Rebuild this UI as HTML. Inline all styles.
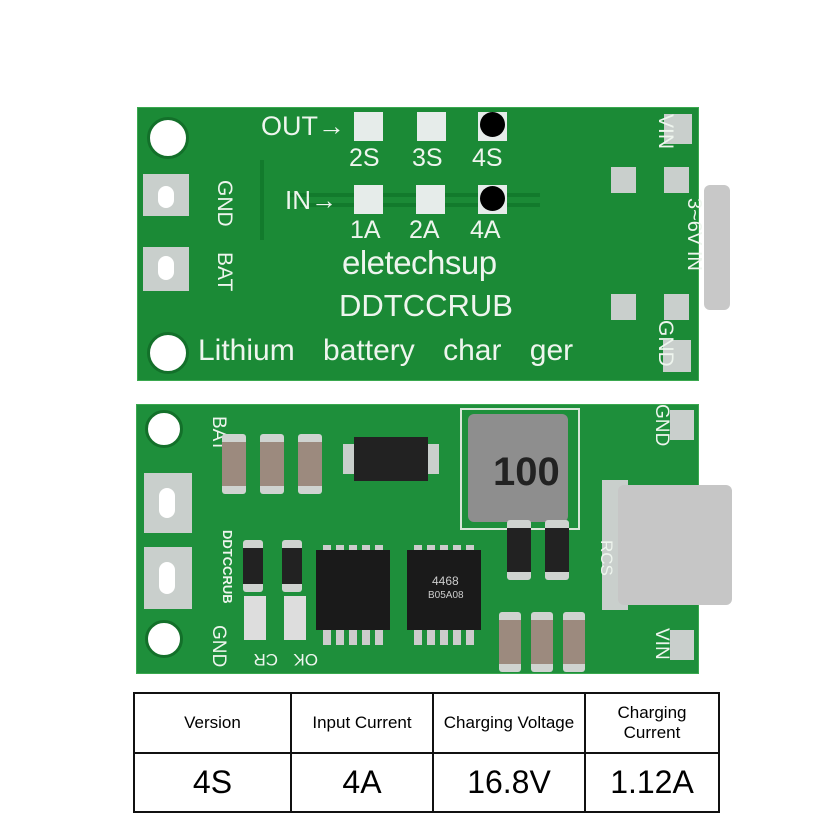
<!DOCTYPE html>
<html><head><meta charset="utf-8"><style>
body{margin:0;width:837px;height:820px;background:#fff;position:relative;overflow:hidden;font-family:"Liberation Sans",sans-serif}
.a{position:absolute}
.board{background:#1b8a36;border:1px solid #3aa84f}
.hole{border-radius:50%;background:#fff;border:3px solid #13702a}
.pad{background:#c9cfcc}
.t{color:#eef5ee;white-space:nowrap;line-height:1}
.sq{background:#e6ecea}
.cap{background:#9c8a7e;border-top:8px solid #cfd3d0;border-bottom:8px solid #cfd3d0;border-radius:3px}
.ic{background:#1a1a1a}
.rot{transform-origin:left top}
td{border:2px solid #111;text-align:center;padding:0}
</style></head><body>
<!-- top board -->
<div class="a board" style="left:137px;top:107px;width:560px;height:272px"></div>
<div class="a hole" style="left:147px;top:117px;width:36px;height:36px"></div>
<div class="a hole" style="left:147px;top:332px;width:36px;height:36px"></div>
<div class="a pad" style="left:143px;top:174px;width:46px;height:42px"></div>
<div class="a pad" style="left:143px;top:247px;width:46px;height:44px"></div>
<div class="a" style="left:158px;top:186px;width:16px;height:22px;background:#fff;border-radius:8px"></div>
<div class="a" style="left:158px;top:256px;width:16px;height:24px;background:#fff;border-radius:8px"></div>
<div class="a t rot" style="left:214px;top:180px;font-size:21px;transform:rotate(90deg) translateY(-21px)">GND</div>
<div class="a t rot" style="left:214px;top:252px;font-size:21px;transform:rotate(90deg) translateY(-21px)">BAT</div>
<div class="a t" style="left:261px;top:113px;font-size:27px">OUT→</div>
<div class="a sq" style="left:354px;top:112px;width:29px;height:29px"></div>
<div class="a sq" style="left:417px;top:112px;width:29px;height:29px"></div>
<div class="a sq" style="left:478px;top:112px;width:29px;height:29px"></div>
<div class="a" style="left:480px;top:112px;width:25px;height:25px;border-radius:50%;background:#000"></div>
<div class="a t" style="left:349px;top:146px;font-size:25px">2S</div>
<div class="a t" style="left:412px;top:146px;font-size:25px">3S</div>
<div class="a t" style="left:472px;top:146px;font-size:25px">4S</div>
<div class="a" style="left:290px;top:193px;width:250px;height:4px;background:#127a2c"></div>
<div class="a" style="left:300px;top:203px;width:240px;height:4px;background:#127a2c"></div>
<div class="a" style="left:260px;top:160px;width:4px;height:80px;background:#127a2c"></div>
<div class="a t" style="left:285px;top:187px;font-size:26px">IN→</div>
<div class="a sq" style="left:354px;top:185px;width:29px;height:29px"></div>
<div class="a sq" style="left:416px;top:185px;width:29px;height:29px"></div>
<div class="a sq" style="left:478px;top:185px;width:29px;height:29px"></div>
<div class="a" style="left:480px;top:186px;width:25px;height:25px;border-radius:50%;background:#000"></div>
<div class="a t" style="left:350px;top:218px;font-size:25px">1A</div>
<div class="a t" style="left:409px;top:218px;font-size:25px">2A</div>
<div class="a t" style="left:470px;top:218px;font-size:25px">4A</div>
<div class="a t" style="left:342px;top:246px;font-size:33px;letter-spacing:-0.5px">eletechsup</div>
<div class="a t" style="left:339px;top:290px;font-size:31px">DDTCCRUB</div>
<div class="a t" style="left:198px;top:336px;font-size:30px;word-spacing:20px">Lithium battery char ger</div>
<div class="a pad" style="left:664px;top:114px;width:28px;height:30px"></div>
<div class="a pad" style="left:611px;top:167px;width:25px;height:26px"></div>
<div class="a pad" style="left:664px;top:167px;width:25px;height:26px"></div>
<div class="a pad" style="left:611px;top:294px;width:25px;height:26px"></div>
<div class="a pad" style="left:664px;top:294px;width:25px;height:26px"></div>
<div class="a pad" style="left:663px;top:340px;width:28px;height:32px"></div>
<div class="a t rot" style="left:655px;top:114px;font-size:21px;transform:rotate(90deg) translateY(-21px)">VIN</div>
<div class="a t rot" style="left:684px;top:198px;font-size:20px;transform:rotate(90deg) translateY(-20px)">3~6V IN</div>
<div class="a t rot" style="left:655px;top:320px;font-size:21px;transform:rotate(90deg) translateY(-21px)">GND</div>
<div class="a" style="left:704px;top:185px;width:26px;height:125px;background:#c8c8c8;border-radius:6px"></div>
<!-- bottom board -->
<div class="a board" style="left:136px;top:404px;width:561px;height:268px;background:#1e8f3b"></div>
<div class="a hole" style="left:145px;top:410px;width:32px;height:32px"></div>
<div class="a hole" style="left:145px;top:620px;width:32px;height:32px"></div>
<div class="a pad" style="left:144px;top:473px;width:48px;height:60px"></div>
<div class="a pad" style="left:144px;top:547px;width:48px;height:62px"></div>
<div class="a" style="left:159px;top:488px;width:16px;height:30px;background:#fff;border-radius:8px"></div>
<div class="a" style="left:159px;top:562px;width:16px;height:32px;background:#fff;border-radius:8px"></div>
<div class="a t rot" style="left:209px;top:416px;font-size:19px;transform:rotate(90deg) translateY(-19px)">BAT</div>
<div class="a t rot" style="left:220px;top:530px;font-size:13px;font-weight:bold;transform:rotate(90deg) translateY(-14px)">DDTCCRUB</div>
<div class="a t rot" style="left:209px;top:625px;font-size:19px;transform:rotate(90deg) translateY(-19px)">GND</div>
<div class="a cap" style="left:222px;top:434px;width:24px;height:44px"></div>
<div class="a cap" style="left:260px;top:434px;width:24px;height:44px"></div>
<div class="a cap" style="left:298px;top:434px;width:24px;height:44px"></div>
<div class="a pad" style="left:343px;top:444px;width:96px;height:30px"></div>
<div class="a ic" style="left:354px;top:437px;width:74px;height:44px;background:#222"></div>
<div class="a" style="left:460px;top:408px;width:116px;height:118px;border:2px solid #d8e6d8"></div>
<div class="a" style="left:468px;top:414px;width:100px;height:108px;background:#8e8e8e;border-radius:6px"></div>
<div class="a" style="left:493px;top:450px;font-size:40px;color:#222;font-weight:bold">100</div>
<div class="a pad" style="left:602px;top:480px;width:26px;height:130px"></div>
<div class="a" style="left:618px;top:485px;width:114px;height:120px;background:#c6c6c6;border-radius:6px"></div>
<div class="a t rot" style="left:652px;top:404px;font-size:19px;transform:rotate(90deg) translateY(-19px)">GND</div>
<div class="a t rot" style="left:652px;top:628px;font-size:19px;transform:rotate(90deg) translateY(-19px)">VIN</div>
<div class="a pad" style="left:670px;top:410px;width:24px;height:30px"></div>
<div class="a pad" style="left:670px;top:630px;width:24px;height:30px"></div>
<div class="a cap" style="left:243px;top:540px;width:20px;height:36px;background:#222"></div>
<div class="a cap" style="left:282px;top:540px;width:20px;height:36px;background:#222"></div>
<div class="a" style="left:244px;top:596px;width:22px;height:44px;background:#ddd"></div>
<div class="a" style="left:284px;top:596px;width:22px;height:44px;background:#ddd"></div>
<div class="a t rot" style="left:258px;top:650px;font-size:17px;transform:rotate(180deg) translate(-20px,-18px)">CR</div>
<div class="a t rot" style="left:298px;top:650px;font-size:17px;transform:rotate(180deg) translate(-20px,-18px)">OK</div>
<div class="a" style="left:323px;top:545px;width:60px;height:100px;background:repeating-linear-gradient(90deg,#ccc 0 8px,transparent 8px 13px)"></div>
<div class="a ic" style="left:316px;top:550px;width:74px;height:80px"></div>
<div class="a" style="left:414px;top:545px;width:60px;height:100px;background:repeating-linear-gradient(90deg,#ccc 0 8px,transparent 8px 13px)"></div>
<div class="a ic" style="left:407px;top:550px;width:74px;height:80px"></div>
<div class="a" style="left:432px;top:574px;color:#ccc;font-size:12px">4468</div>
<div class="a" style="left:428px;top:590px;color:#ccc;font-size:10px">B05A08</div>
<div class="a cap" style="left:507px;top:520px;width:24px;height:44px;background:#222"></div>
<div class="a cap" style="left:545px;top:520px;width:24px;height:44px;background:#222"></div>
<div class="a t rot" style="left:598px;top:540px;font-size:17px;transform:rotate(90deg) translateY(-17px)">RCS</div>
<div class="a cap" style="left:499px;top:612px;width:22px;height:44px"></div>
<div class="a cap" style="left:531px;top:612px;width:22px;height:44px"></div>
<div class="a cap" style="left:563px;top:612px;width:22px;height:44px"></div>
<!-- table -->
<table class="a" style="left:133px;top:692px;width:587px;height:121px;border-collapse:collapse">
<tr style="height:60px"><td style="width:155px;font-size:17px">Version</td><td style="width:140px;font-size:17px">Input Current</td><td style="width:150px;font-size:17px">Charging Voltage</td><td style="font-size:17px">Charging<br>Current</td></tr>
<tr><td style="font-size:32px">4S</td><td style="font-size:32px">4A</td><td style="font-size:32px">16.8V</td><td style="font-size:32px">1.12A</td></tr>
</table>
</body></html>
